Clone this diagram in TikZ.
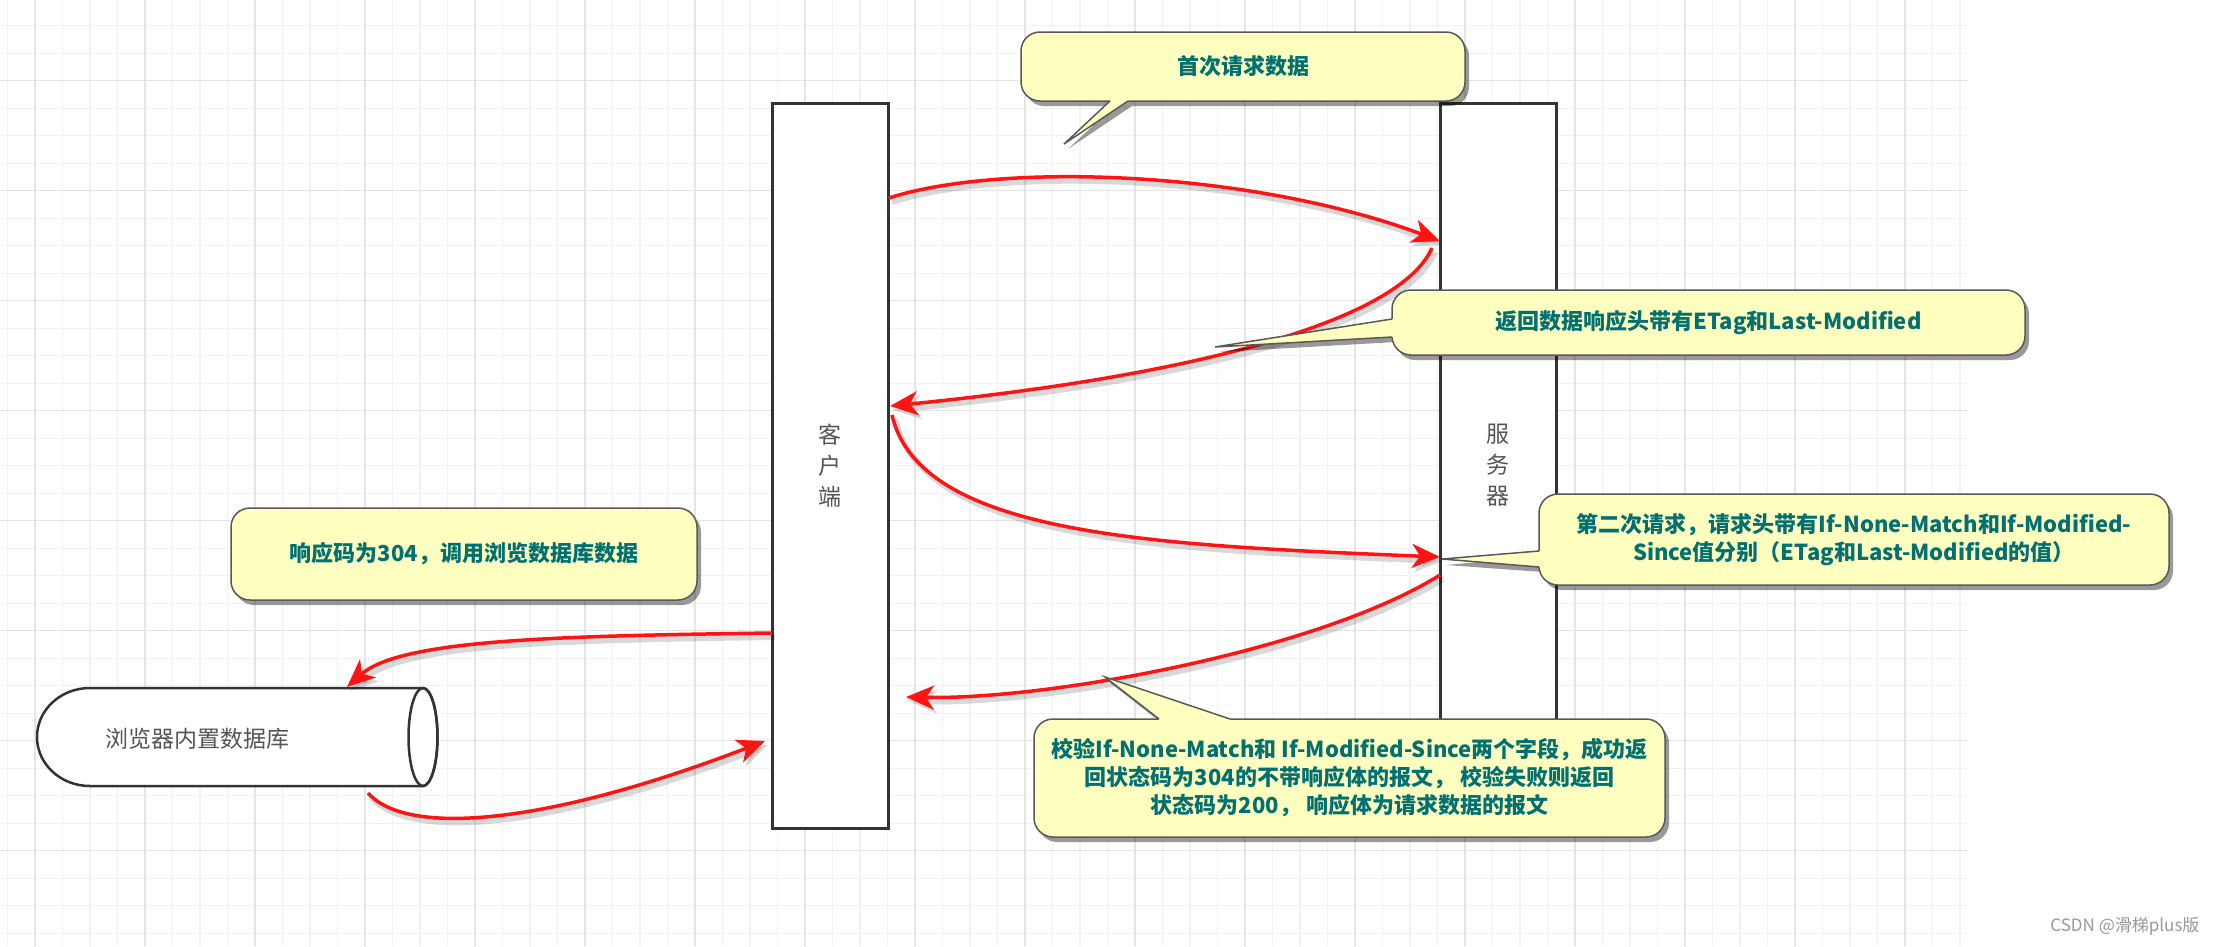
\documentclass[tikz,border=0pt]{standalone}
\usepackage{fontspec}
\newfontfamily\cjk{Noto Sans CJK SC}
\usetikzlibrary{arrows.meta,calc,shadows}
\definecolor{calloutfill}{RGB}{255,255,192}
\definecolor{callouttext}{RGB}{0,112,112}
\definecolor{gridminor}{RGB}{242,242,242}
\definecolor{gridmajor}{RGB}{229,229,229}
\definecolor{boxline}{RGB}{51,51,51}
\definecolor{labelgray}{RGB}{85,85,85}
\definecolor{arrred}{RGB}{255,20,20}
\tikzset{
 lifeline/.style={draw=boxline, line width=3pt, fill=white, minimum width=116pt, minimum height=725pt,
   inner sep=0pt, outer sep=0pt, align=center, font=\cjk\fontsize{23}{31}\selectfont, text=labelgray},
 callout/.style={draw=black!65, line width=1.5pt, fill=calloutfill, rounded corners=19pt, inner sep=0pt,
   outer sep=0pt, align=center, text=callouttext, font=\cjk\bfseries\fontsize{22}{28}\selectfont,
   drop shadow={shadow xshift=4pt, shadow yshift=-5pt, fill=black, opacity=.4}},
 tailfill/.style={fill=calloutfill},
 tailline/.style={draw=black!65, line width=1.5pt, line join=miter},
 tailshadow/.style={fill=black, opacity=.4},
 dbline/.style={draw=boxline, line width=2.5pt},
 redarrow/.style={draw=arrred, line width=3.5pt, -{Stealth[length=28pt,width=24pt,inset=8pt]}},
 arrshadow/.style={draw=black, opacity=.15, line width=6pt, -{Stealth[length=28pt,width=24pt,inset=8pt]},
   transform canvas={xshift=3pt,yshift=-4pt}},
 gminor/.style={draw=gridminor, line width=1.3pt},
 gmajor/.style={draw=gridmajor, line width=1.5pt},
}
\newcommand{\RedArrow}[1]{\draw[arrshadow] #1; \draw[redarrow] #1;}
\begin{document}
\begin{tikzpicture}[x=1pt,y=-1pt]
\useasboundingbox (0,0) rectangle (2220,946);
\fill[white] (0,0) rectangle (2220,946);
% grid
\foreach \i in {0,...,71} \draw[gminor] ({7.5+27.5*\i},0) -- ({7.5+27.5*\i},946);
\foreach \j in {0,...,33} \draw[gminor] (0,{25.7+27.5*\j}) -- (1968,{25.7+27.5*\j});
\foreach \i in {1,5,...,69} \draw[gmajor] ({7.5+27.5*\i},0) -- ({7.5+27.5*\i},946);
\foreach \j in {2,6,...,30} \draw[gmajor] (0,{25.7+27.5*\j}) -- (1968,{25.7+27.5*\j});

% lifelines
\node[lifeline] (client) at (830,465.5) {客\\户\\端};
\node[lifeline] (server) at (1498,465.5) {服\\务\\器};

% database
\node[minimum width=400pt, minimum height=98pt, inner sep=0pt, outer sep=0pt] (db) at (237,737) {};
\draw[dbline, fill=white] (423,688) -- (90,688) .. controls (60.7,688) and (37,709.9) .. (37,737)
  .. controls (37,764.1) and (60.7,786) .. (90,786) -- (423,786)
  .. controls (431,786) and (437.5,764.1) .. (437.5,737) .. controls (437.5,709.9) and (431,688) .. (423,688) -- cycle;
\draw[dbline] (423,737) ellipse [x radius=14.5pt, y radius=49pt];
\node[font=\cjk\fontsize{23}{28}\selectfont, text=labelgray] (dblabel) at (197,739) {浏览器内置数据库};

% arrows
\RedArrow{($(client.north east)+(1,95)$) .. controls (1000,162) and (1250,170) .. ($(server.north west)+(0,138)$)}
\RedArrow{($(server.north west)+(-8,145)$) .. controls (1400,320) and (1200,375) .. ($(client.north east)+(2,303)$)}
\RedArrow{($(client.north east)+(4,312)$) .. controls (920,535) and (1150,545) .. ($(server.north west)+(0,454)$)}
\RedArrow{($(server.north west)+(0,472)$) .. controls (1320,650) and (1050,700) .. ($(client.north east)+(18,594)$)}
\RedArrow{($(client.north west)+(0,530)$) .. controls (550,636) and (400,640) .. ($(db.north west)+(310,-1)$)}
\RedArrow{($(db.south west)+(331,7)$) .. controls (410,840) and (560,820) .. ($(client.north west)+(-7,638)$)}

% callout 1
\fill[tailshadow] (1132,106) -- (1068,149) -- (1114,106) -- cycle;
\node[callout, minimum width=444pt, minimum height=69pt] (c1) at (1243,66.5) {首次请求数据};
\fill[tailfill] (1110,96) -- (1128,96) -- (1128,101) -- (1064,144) -- (1110,101) -- cycle;
\draw[tailline] (1128,101) -- (1064,144) -- (1110,101);

% callout 2
\fill[tailshadow] (1396,324) -- (1219,352) -- (1396,342) -- cycle;
\node[callout, minimum width=633pt, minimum height=65pt] (c2) at (1708.5,322.5) {返回数据响应头带有ETag和Last-Modified};
\fill[tailfill] (1396,319) -- (1392,319) -- (1215,347) -- (1392,337) -- (1396,337) -- cycle;
\draw[tailline] (1392,319) -- (1215,347) -- (1392,337);

% callout 3
\fill[tailshadow] (1543,556) -- (1446,565) -- (1543,572) -- cycle;
\node[callout, minimum width=630pt, minimum height=91pt] (c3) at (1854,539.5) {第二次请求，请求头带有If-None-Match和If-Modified-\\Since值分别（ETag和Last-Modified的值）};
\fill[tailfill] (1543,551) -- (1539,551) -- (1442,559) -- (1539,567) -- (1543,567) -- cycle;
\draw[tailline] (1539,551) -- (1442,559) -- (1539,567);

% callout 4
\fill[tailshadow] (1163,724) -- (1109,682) -- (1234,724) -- cycle;
\node[callout, minimum width=631pt, minimum height=118pt] (c4) at (1349.5,778) {校验If-None-Match和 If-Modified-Since两个字段，成功返\\回状态码为304的不带响应体的报文， 校验失败则返回\\状态码为200， 响应体为请求数据的报文};
\fill[tailfill] (1159,723) -- (1159,719) -- (1105,677) -- (1230,719) -- (1230,723) -- cycle;
\draw[tailline] (1159,719) -- (1105,677) -- (1230,719);

% callout 5
\node[callout, minimum width=466pt, minimum height=92pt] (c5) at (464,554) {响应码为304，调用浏览数据库数据};

% watermark
\node[anchor=east, font=\cjk\fontsize{17}{20}\selectfont, text=black!40] (wm) at (2203,926) {CSDN @滑梯plus版};
\end{tikzpicture}
\end{document}
